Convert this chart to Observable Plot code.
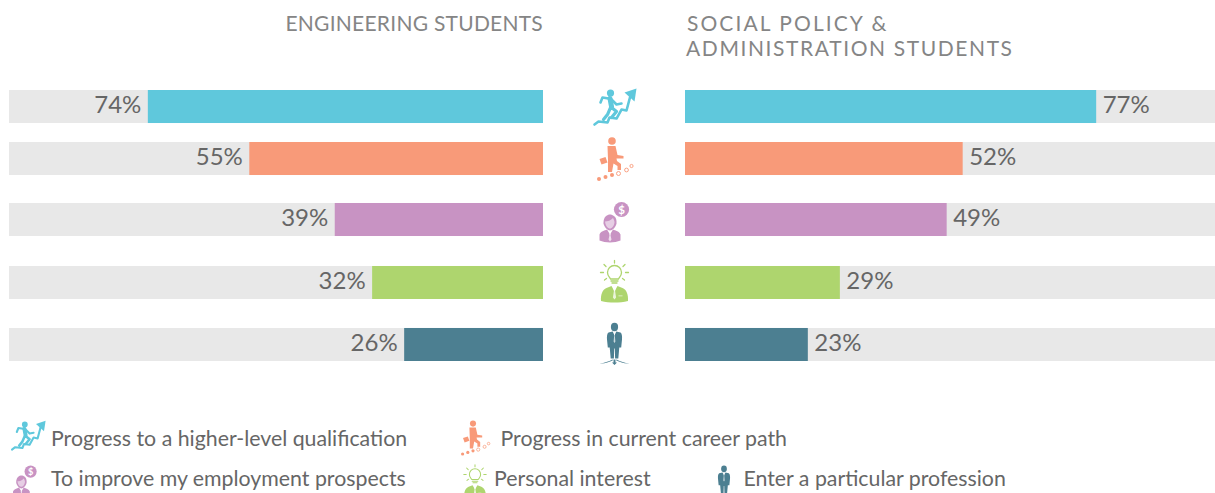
<!DOCTYPE html>
<html><head><meta charset="utf-8">
<script src="https://cdn.jsdelivr.net/npm/d3@7"></script>
<script src="https://cdn.jsdelivr.net/npm/@observablehq/plot@0.6"></script>
<style>
html,body{margin:0;padding:0;background:#fff;overflow:hidden}
#page{position:relative;width:1215px;height:493px;font-family:Lato,sans-serif;color:#666}
.head{position:absolute;font-size:21px;color:#858585;line-height:25px;white-space:nowrap}
#chart{position:absolute;left:0;top:80px}
.lg{position:absolute;font-size:21.32px;line-height:26px;white-space:nowrap;font-feature-settings:"liga" 1}
.ic{position:absolute;display:block}
svg text{font-family:Lato,sans-serif}
</style></head><body>
<div id="page"></div>
<script>
const categories = ["Progress to a higher-level qualification","Progress in current career path","To improve my employment prospects","Personal interest","Enter a particular profession"];
const engineering = [74,55,39,32,26];
const socialPolicy = [77,52,49,29,23];
const colors = ["#5FC8DC","#F89A79","#C893C3","#AED56E","#4C7F91"];

// Layout, not data
const pxPerPct = 5.34, gap = 142/pxPerPct, rightEnd = gap + 530/pxPerPct;
const rowNudge = [0,-7.5,-6,-2.5,0];
const iconNudge = [0.5,0,2.5,1.5,-1.5];
const labelNudge = -1.5;

const svgUri = body => "data:image/svg+xml," + encodeURIComponent(`<svg xmlns="http://www.w3.org/2000/svg" viewBox="0 0 50 50">${body}</svg>`);
const c = colors;
const icons = [
 svgUri(`<g fill="none" stroke="${c[0]}" stroke-linecap="round" stroke-linejoin="round">
  <polyline stroke-width="2.6" points="5,42 9,39 18,40 20,35 27,36 32,27 37,28 41,13"/>
  <path fill="${c[0]}" stroke="none" d="M47,6 L35,10 L45,19 Z"/>
  <circle cx="21" cy="10.5" r="3.6" fill="${c[0]}" stroke="none"/>
  <path stroke-width="5" d="M20.5,16 L22,24"/>
  <path stroke-width="2.6" d="M19,16 L13,15 L11,20 M22,17 L27,22 L32,21"/>
  <path stroke-width="3.2" d="M22,25 L27,29 L22,35 M21,25 L18,32 L14,37"/>
 </g>`),
 svgUri(`<g fill="${c[1]}">
  <circle cx="22.5" cy="7" r="3.8"/>
  <path d="M18,12 L26,12 L28,21 L34,22 L34,24.5 L27,24.5 L27.5,27 L31.5,30 L31.5,36 L28,36 L28,32 L24,29.5 L22.5,38 L18.5,38 L18.5,26 Z"/>
  <path d="M10,25 L16,23 L18,28.5 L12,30.5 Z"/>
  <circle cx="9.5" cy="45" r="2"/><circle cx="16" cy="43" r="2"/><circle cx="22.5" cy="41" r="2"/>
  <circle cx="29" cy="39.5" r="2" fill="none" stroke="${c[1]}" stroke-width=".9"/>
  <circle cx="37" cy="36" r="1.9" fill="none" stroke="${c[1]}" stroke-width=".9"/>
  <circle cx="42" cy="32" r="1.6" fill="none" stroke="${c[1]}" stroke-width=".9"/>
 </g>`),
 svgUri(`<g fill="${c[2]}">
  <circle cx="32" cy="12" r="7.6"/>
  <text x="32" y="16" font-family="Lato,DejaVu Sans,sans-serif" font-weight="700" font-size="11.5" text-anchor="middle" fill="#fff">$</text>
  <path d="M14,25 C14,19 18,17 20.5,17 C23,17 27,19 27,24 L27,26 C26,30 23,33 20.5,33 C18,33 15,30 14,26 Z"/>
  <path fill="#fff" d="M15.5,24 C18,24 21.5,23 23.5,20.5 C24.5,22 25,24 25,25 C24.5,28.5 22.5,31 20.5,31 C18.5,31 16,28.5 15.5,24 Z" opacity=".55"/>
  <path d="M10,43 L10,37 C11,34 15,33 17.5,32 L20.5,37 L23.5,32 C26,33 30,34 31,37 L31,43 C25,45.5 16,45.5 10,43 Z"/>
  <path fill="#fff" d="M19.5,36 L21.5,36 L21.1,38 L22,42 L20.5,44 L19,42 L19.9,38 Z" opacity=".7"/>
 </g>`),
 svgUri(`<g stroke="${c[3]}" fill="none" stroke-width="1.3" stroke-linecap="round">
  <path d="M21,19.5 C19.5,17 18,16 18,13 A7,7 0 1 1 32,13 C32,16 30.5,17 29,19.5 Z"/>
  <path d="M21.5,21.5 H28.5 M22.5,23.5 H27.5"/>
  <path d="M25,1 V3.5 M14.5,5 L16.5,7 M35.5,5 L33.5,7 M11,13 H14 M36,13 H39 M15,20.5 L17,19 M35,20.5 L33,19"/>
 </g>
 <g fill="${c[3]}">
  <path d="M11.5,41.5 C11,35 13,30 17,28.5 L22,26.5 L25,32 L28,26.5 L33,28.5 C37,30 39,35 38.5,41.5 C30,43.5 20,43.5 11.5,41.5 Z"/>
  <path fill="#fff" d="M24,29.5 L26,29.5 L25.6,31.5 L26.6,38 L25,40 L23.4,38 L24.4,31.5 Z M29,36 H33 V36.8 H29 Z" opacity=".75"/>
 </g>`),
 svgUri(`<g fill="${c[4]}">
  <ellipse cx="25" cy="8.5" rx="3.6" ry="4.2"/>
  <path d="M19,14 L23.2,13 L25,17 L26.8,13 L31,14 C32.5,15 32.7,18 32.5,21 L31.7,29 L29.8,29 L28.8,40 L25.6,40 L25.3,30 L24.7,30 L24.4,40 L21.2,40 L20.2,29 L18.3,29 L17.5,21 C17.3,18 17.5,15 19,14 Z"/>
  <path d="M24,41 L26,41 L26,44 H27.5 L25,46.5 L22.5,44 H24 Z"/>
  <path d="M10,45 C15,44.5 19,43 23,41 L23.5,41.8 C19,44 15,45.5 10,45 Z M40,45 C35,44.5 31,43 27,41 L26.5,41.8 C31,44 35,45.5 40,45 Z"/>
 </g><path fill="#fff" d="M24.4,15.5 L25.6,15.5 L25.3,17 L25.9,23 L25,24.5 L24.1,23 L24.7,17 Z" opacity=".7"/>`)
];

const rowsL = categories.map((category,i)=>({category,value:engineering[i],i}));
const rowsR = categories.map((category,i)=>({category,value:socialPolicy[i],i}));
const textOpts = {fontSize:24, fill:"#666"};

const marks = categories.flatMap((category,i)=>{
  const dy = rowNudge[i];
  const l = [rowsL[i]], r = [rowsR[i]];
  return [
    Plot.barX(l,{x1:-100,x2:0,y:"category",fill:"#E8E8E8",dy}),
    Plot.barX(r,{x1:gap,x2:rightEnd,y:"category",fill:"#E8E8E8",dy}),
    Plot.barX(l,{x1:d=>-d.value,x2:0,y:"category",fill:"category",dy}),
    Plot.barX(r,{x1:gap,x2:d=>gap+d.value,y:"category",fill:"category",dy}),
    Plot.text(l,{x:d=>-d.value,y:"category",text:d=>d.value+"%",textAnchor:"end",dx:-7,dy:dy+labelNudge,...textOpts}),
    Plot.text(r,{x:d=>gap+d.value,y:"category",text:d=>d.value+"%",textAnchor:"start",dx:6,dy:dy+labelNudge,...textOpts}),
    Plot.image(l,{x:gap/2,y:"category",src:()=>icons[i],width:50,height:50,dy:dy+iconNudge[i]})
  ];
});

const chart = Plot.plot({
  width:1215,height:300,marginTop:10,marginBottom:19,marginLeft:9,marginRight:0,
  x:{domain:[-100,rightEnd],axis:null},
  y:{type:"band",domain:categories,axis:null,paddingInner:0.445,paddingOuter:0,round:false},
  color:{domain:categories,range:colors},
  style:{background:"transparent",overflow:"visible"},
  marks
});
chart.id="chart";
const page = document.getElementById("page");
page.appendChild(chart);

function add(cls,html,style){const d=document.createElement("div");d.className=cls;d.innerHTML=html;Object.assign(d.style,style);page.appendChild(d);return d;}
add("head","ENGINEERING STUDENTS",{right:(1215-543)+"px",top:"10px",letterSpacing:"0.25px"});
add("head","SOCIAL POLICY &amp;",{left:"687px",top:"10px",letterSpacing:"2.07px"});
add("head","ADMINISTRATION STUDENTS",{left:"686px",top:"35px",letterSpacing:"1.6px"});

const legend = [
 {text:0,icon:[8,416,40],tx:51,ty:425},
 {text:1,icon:[455,418,40],tx:500.5,ty:425},
 {text:2,icon:[5,462,40],tx:51,ty:465},
 {text:3,icon:[455,464,40],tx:494,ty:465},
 {text:4,icon:[704,462,40],tx:743.5,ty:465}
];
legend.forEach(l=>{
  const img=document.createElement("img");img.className="ic";img.src=icons[l.text];
  Object.assign(img.style,{left:l.icon[0]+"px",top:l.icon[1]+"px",width:l.icon[2]+"px",height:l.icon[2]+"px"});
  page.appendChild(img);
  add("lg",categories[l.text],{left:l.tx+"px",top:l.ty+"px"});
});
</script>
</body></html>
